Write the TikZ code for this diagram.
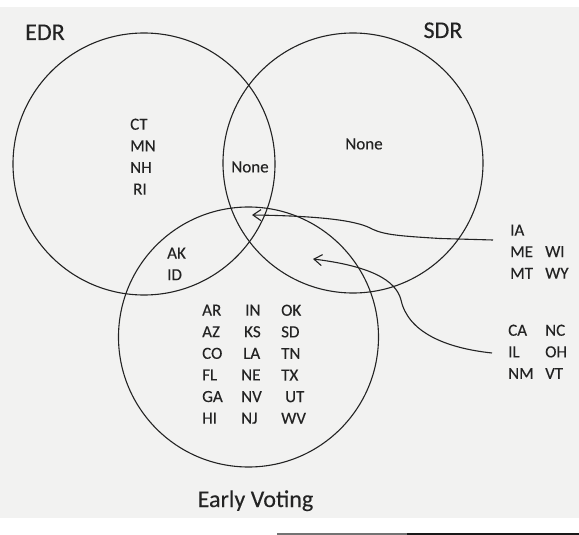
\documentclass[tikz,border=0pt]{standalone}
\usepackage{fontspec}
\setmainfont{Carlito}[FakeBold=0.2]
\usetikzlibrary{arrows.meta}
\definecolor{paper}{RGB}{242,242,241}
\definecolor{ink}{RGB}{35,35,35}

\begin{document}
\begin{tikzpicture}[x=1pt,y=-1pt,
	set/.style={circle,draw=ink,line width=1.1pt,inner sep=0pt},
	title/.style={font=\fontsize{24}{28}\selectfont,text=ink,inner sep=0pt,anchor=base},
	states/.style={font=\fontsize{17}{21.6}\selectfont,text=ink,align=left,inner sep=0pt,anchor=north west},
	pointer/.style={draw=ink,line width=1.1pt,-{Straight Barb[length=8pt,width=11pt]}}]
\useasboundingbox (0,0) rectangle (579,535);
% scanned page
\fill[paper] (0,7) rectangle (579,518);
\fill[black!55] (277,532.5) rectangle (407,535);
\fill[black!90] (407,532.5) rectangle (579,535);
% the three sets
\node[set,minimum size=262pt] (edr) at (144,164) {};
\node[set,minimum size=260pt] (sdr) at (353,163) {};
\node[set,minimum size=260pt] (early) at (248.5,337) {};
\node[title] (edrlabel) at (45,40) {EDR};
\node[title] (sdrlabel) at (443,38) {SDR};
\node[title] (earlylabel) at (255.5,507) {Early Voting};
% states in each region
\node[states] (edronly) at (130,118.5) {CT\\MN\\NH\\\hspace{3pt}RI};
\node[states,anchor=center] (nonemid) at (250,167) {None};
\node[states,anchor=center] (nonesdr) at (364,144) {None};
\node[states] (edrearly) at (167,247.5) {AK\\ID};
\node[states] (evone) at (202,304.5) {AR\\AZ\\CO\\FL\\GA\\HI};
\node[states] (evtwo) at (241,304.5) {\hspace{4pt}IN\\\hspace{3pt}KS\\\hspace{2pt}LA\\NE\\NV\\NJ};
\node[states] (evthree) at (281,304.5) {OK\\SD\\TN\\TX\\\hspace{4pt}UT\\WV};
% states outside
\node[states] (iame) at (510,224.5) {IA\\ME\\MT};
\node[states] (wiwy) at (545,246) {WI\\WY};
\node[states] (cail) at (508,324.5) {CA\\IL\\NM};
\node[states] (ncoh) at (545,324.5) {NC\\OH\\VT};
% arrows
\coordinate (startone) at (493,240);
\coordinate (tipone) at (252,215);
\coordinate (starttwo) at (492,353);
\coordinate (tiptwo) at (313,259);
\draw[pointer] (startone) -- (440,238.5) .. controls (400,236) and (385,235) .. (372,229)
	.. controls (360,222) and (330,216) .. (tipone);
\draw[pointer] (starttwo) .. controls (445,348) and (408,332) .. (401,300)
	.. controls (396,280) and (370,266) .. (tiptwo);
\end{tikzpicture}
\end{document}
